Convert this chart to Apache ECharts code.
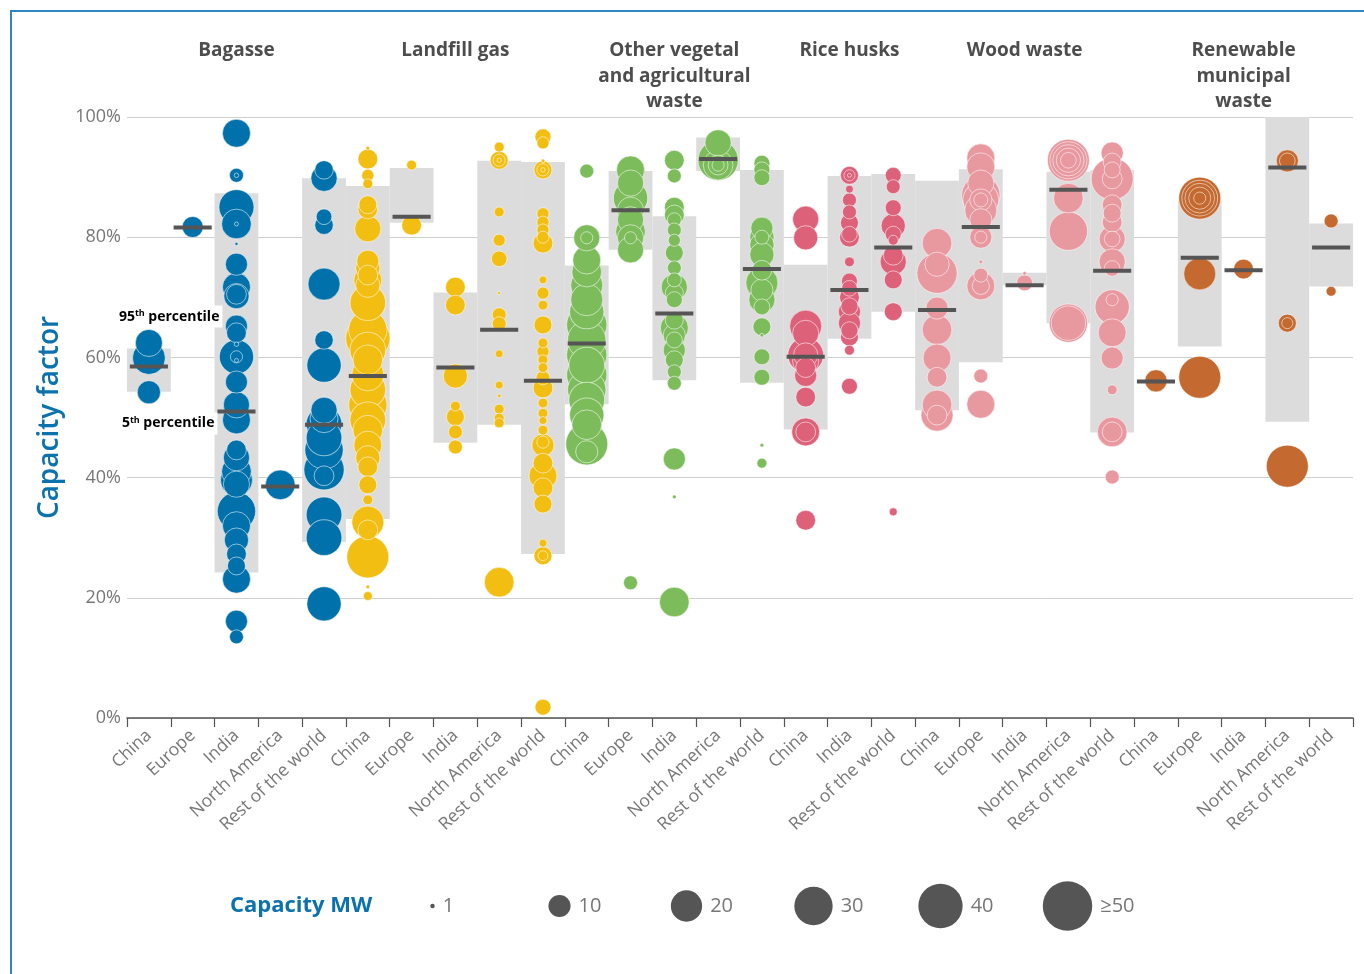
<!DOCTYPE html>
<html>
<head>
<meta charset="utf-8">
<script src="https://cdn.jsdelivr.net/npm/echarts/dist/echarts.min.js"></script>
<style>
  html, body { margin: 0; padding: 0; background: #fff; }
  #chart { width: 1364px; height: 974px; }
  #frame { position: absolute; left: 10px; top: 10px; right: 0; bottom: 0;
           border-top: 2px solid #2F86C3; border-left: 2px solid #2F86C3; pointer-events: none; }
</style>
</head>
<body>
<div id="chart"></div>
<div id="frame"></div>
<script>
// ---------- DATA ----------
const categories = [
  'China','Europe','India','North America','Rest of the world',
  'China','Europe','India','North America','Rest of the world',
  'China','Europe','India','North America','Rest of the world',
  'China','India','Rest of the world',
  'China','Europe','India','North America','Rest of the world',
  'China','Europe','India','North America','Rest of the world'
];
const groupNames = ['Bagasse','Landfill gas','Other vegetal\nand agricultural\nwaste','Rice husks','Wood waste','Renewable\nmunicipal\nwaste'];
const groupFirst = [0, 5, 10, 15, 18, 23];
const groupLast  = [4, 9, 14, 17, 22, 27];
const fuelColors = ['#0071AA', '#F2BE12', '#7DBC5B', '#DD6179', '#E8989F', '#C4692F'];

// 95th / 5th percentile and median capacity factor (%) per category
const p95 = [61.5,null,87.3,null,89.8, 88.5,91.5,70.8,92.7,92.5, 75.3,91.0,83.5,96.6,91.2, 75.4,90.2,90.5, 89.4,91.3,74.1,90.9,91.2, null,86.1,null,100,82.3];
const p5  = [54.3,null,24.2,null,29.3, 33.1,82.4,45.8,48.8,27.3, 52.2,77.9,56.2,91.0,55.8, 48.0,63.1,67.6, 51.2,59.2,72.0,65.7,47.5, null,61.8,null,49.3,71.8];
const medians = [58.5,81.6,51.0,38.5,48.8, 56.9,83.4,58.3,64.6,56.1, 62.3,84.5,67.3,93.0,74.7, 60.1,71.2,78.3, 67.9,81.7,72.0,87.9,74.4, 56.0,76.6,74.5,91.6,78.3];

// plants: [category index, capacity factor %, capacity MW]
const bagassePlants = [
  [0,62.4,15],[0,59.9,22],[0,54.2,11],
  [1,81.7,9],
  [2,97.3,16],[2,90.3,4],[2,90.3,1],[2,85.0,25],[2,82.2,18],[2,82.2,0.8],[2,78.9,0.5],[2,75.5,10],[2,71.7,16],
  [2,70.5,8],[2,70.2,13],[2,65.2,10],[2,64.1,8],[2,62.2,1],[2,60.1,24],[2,60.1,3],[2,59.5,0.8],[2,55.9,10],
  [2,52.1,14],[2,49.6,16],[2,44.6,8],[2,43.3,14],[2,41.0,18],[2,39.6,21],[2,38.9,14],[2,34.4,30],[2,32.0,16],
  [2,29.6,12],[2,27.3,8],[2,25.3,6.6],[2,23.1,16],[2,16.1,10],[2,13.5,4],
  [3,38.8,18],
  [4,91.2,7],[4,89.8,14],[4,83.4,5],[4,82.0,7],[4,72.2,21],[4,62.9,7],[4,58.7,24],[4,51.2,14],[4,49.8,16],
  [4,48.9,26],[4,46.6,26],[4,44.6,30],[4,41.3,33],[4,40.3,8],[4,33.8,26],[4,30.0,26],[4,19.0,24]
];
const landfillPlants = [
  [5,94.8,0.7],[5,93.0,8],[5,90.3,3],[5,88.9,2],[5,85.4,6.6],[5,84.7,8],[5,81.4,14],[5,76.0,10],[5,74.9,12],
  [5,73.7,8],[5,72.8,16],[5,72.0,12],[5,69.1,26],[5,64.6,30],[5,63.2,40],[5,61.2,26],[5,59.6,18],[5,57.1,21],
  [5,54.6,26],[5,52.1,30],[5,49.6,26],[5,47.9,18],[5,45.4,16],[5,43.3,12],[5,41.8,8],[5,38.8,6.6],[5,36.3,2],
  [5,32.6,21],[5,31.3,8],[5,26.8,36],[5,21.8,0.7],[5,20.3,1.6],
  [6,92.0,2],[6,82.0,8],
  [7,71.7,8],[7,68.7,8],[7,56.9,12],[7,51.9,2],[7,50.1,6.6],[7,47.6,4],[7,45.1,4],
  [8,95.0,2],[8,92.8,6.6],[8,92.8,3],[8,92.8,1],[8,84.2,2],[8,79.5,3],[8,76.4,5],[8,70.7,0.5],[8,67.1,4],[8,65.6,4],
  [8,60.6,1.3],[8,55.4,1.3],[8,53.6,0.7],[8,51.4,2],[8,49.9,2],[8,49.1,2],[8,22.6,18],
  [9,96.7,5.2],[9,95.7,3],[9,92.7,0.7],[9,91.2,6.6],[9,91.2,3],[9,91.2,1],[9,83.9,3],[9,82.5,3],[9,81.2,3],[9,80.0,3],
  [9,79.0,8],[9,72.9,1.3],[9,70.7,3],[9,68.7,2],[9,65.4,6.6],[9,62.4,2],[9,61.0,3],[9,59.6,2],[9,58.3,2],
  [9,56.6,4],[9,54.9,8],[9,52.4,2],[9,50.7,2],[9,49.5,1.3],[9,47.9,2],[9,45.9,3],[9,45.4,10],[9,42.4,8],
  [9,40.3,16],[9,38.3,8],[9,35.6,6.6],[9,29.1,1.3],[9,27.0,6.6],[9,27.0,2],[9,1.8,5.2]
];
const otherVegPlants = [
  [10,91.0,4],[10,79.9,14],[10,79.9,3],[10,76.2,16],[10,74.2,18],[10,72.0,21],[10,69.6,21],[10,67.6,24],[10,65.4,33],
  [10,62.9,30],[10,60.4,33],[10,58.7,26],[10,57.1,33],[10,54.6,30],[10,52.9,26],[10,50.4,24],[10,48.8,18],
  [10,45.6,36],[10,44.3,10],
  [11,91.2,16],[11,89.0,14],[11,86.5,24],[11,84.5,14],[11,82.9,14],[11,80.9,18],[11,79.9,14],[11,79.9,3],[11,77.9,14],[11,22.5,4],
  [12,92.8,8],[12,90.2,4],[12,85.0,8],[12,83.7,8],[12,82.9,4],[12,81.2,4],[12,79.5,3],[12,77.4,6.6],[12,74.9,4],
  [12,72.9,4],[12,71.7,14],[12,70.7,6.6],[12,69.6,5.2],[12,66.2,6.6],[12,64.9,16],[12,63.7,10],[12,62.9,5.2],
  [12,61.2,10],[12,59.6,6.6],[12,57.6,4],[12,55.7,4],[12,43.1,10],[12,36.8,0.7],[12,19.3,18],
  [13,95.7,14],[13,92.8,33],[13,92.0,18],[13,92.0,8],[13,92.0,3],
  [14,92.3,5.2],[14,91.2,5.2],[14,89.9,5.2],[14,81.5,10],[14,80.0,12],[14,80.0,4],[14,78.7,12],[14,77.1,12],[14,74.5,8],
  [14,72.4,21],[14,71.2,10],[14,69.6,14],[14,68.4,5.2],[14,65.1,6.6],[14,63.7,0.7],[14,60.1,5.2],[14,56.7,5.2],
  [14,45.4,0.7],[14,42.4,2]
];
const riceHuskPlants = [
  [15,83.0,14],[15,79.9,12],[15,65.2,21],[15,64.0,14],[15,60.4,26],[15,60.4,12],[15,59.4,14],[15,58.3,8],[15,57.0,10],
  [15,53.4,8],[15,47.6,16],[15,47.6,8],[15,32.9,8],
  [16,90.3,6.6],[16,90.3,2.5],[16,90.3,0.8],[16,88.0,1.3],[16,86.2,4],[16,84.2,4],[16,82.4,6.6],[16,80.5,5],[16,80.0,8],
  [16,75.9,2],[16,72.7,5.2],[16,71.5,5],[16,70.0,8],[16,68.5,6],[16,67.6,10],[16,65.7,10],[16,64.5,6],
  [16,63.4,6.6],[16,61.2,2],[16,55.2,5.2],
  [17,90.3,5.2],[17,88.4,4],[17,84.9,5.2],[17,81.9,12],[17,80.5,5.2],[17,79.5,2],[17,77.0,8],[17,75.9,14],
  [17,72.9,6.6],[17,67.6,6.6],[17,34.3,1.3]
];
const woodWastePlants = [
  [18,79.0,18],[18,74.0,33],[18,75.5,12],[18,68.2,10],[18,64.6,18],[18,59.9,16],[18,56.7,8],[18,52.1,18],[18,50.4,21],[18,50.4,8],
  [19,93.2,16],[19,91.7,16],[19,89.0,14],[19,87.0,30],[19,86.2,26],[19,86.2,10],[19,86.2,4],[19,84.5,21],[19,82.9,10],
  [19,80.0,10],[19,80.0,3],[19,75.9,0.7],[19,73.7,4],[19,71.9,16],[19,71.9,6],[19,56.9,4],[19,52.2,16],
  [20,74.0,0.7],[20,72.4,5.2],
  [21,92.8,36],[21,92.8,28],[21,92.8,20],[21,92.8,12],[21,92.8,5],[21,86.5,18],[21,81.0,30],[21,65.7,30],[21,65.7,24],
  [22,94.0,10],[22,92.5,6.6],[22,91.2,5.2],[22,89.7,36],[22,89.7,8],[22,85.4,8],[22,84.0,6.6],[22,82.5,8],
  [22,79.7,14],[22,79.7,5],[22,75.9,14],[22,74.8,5],[22,69.6,3],[22,68.4,24],[22,64.1,16],[22,59.9,10],[22,54.6,2],
  [22,47.6,18],[22,47.6,8],[22,40.1,4]
];
const municipalWastePlants = [
  [23,56.1,10],
  [24,86.5,36],[24,86.5,26],[24,86.5,18],[24,86.5,10],[24,86.5,3],[24,73.9,21],[24,56.7,36],
  [25,74.7,8],
  [26,92.7,10],[26,92.7,5],[26,65.7,6.6],[26,65.7,2.5],[26,41.9,36],
  [27,82.7,4],[27,71.0,2]
];
const fuelPlants = [bagassePlants, landfillPlants, otherVegPlants, riceHuskPlants, woodWastePlants, municipalWastePlants];

const legendSizesMW = [1, 10, 20, 30, 40, 50];
const legendLabels = ['1', '10', '20', '30', '40', '\u226550'];

// ---------- CHART ----------
const sizeOf = mw => mw <= 1 ? 4.5 * Math.sqrt(mw) : 7 * Math.sqrt(Math.min(mw, 50));
const chart = echarts.init(document.getElementById('chart'), null, { renderer: 'canvas' });

const boxData = [];
categories.forEach((c, i) => { if (p5[i] != null) boxData.push([i, p5[i], p95[i]]); });
const medianData = medians.map((m, i) => [i, m]);

const scatterSeries = fuelPlants.map((pts, k) => ({
  type: 'scatter',
  xAxisIndex: 0, yAxisIndex: 0,
  z: 3,
  data: pts.slice().sort((a, b) => b[2] - a[2]),
  symbolSize: v => sizeOf(v[2]),
  itemStyle: { color: fuelColors[k], opacity: 1, borderColor: 'rgba(255,255,255,0.55)', borderWidth: 1 },
  emphasis: { disabled: true },
  silent: true
}));

const FONT = '"Open Sans", "Noto Sans", sans-serif';

chart.setOption({
  animation: false,
  grid: [
    { left: 127, right: 11, top: 117, bottom: 256 },
    { left: 369, width: 762, top: 880, height: 52 }
  ],
  xAxis: [
    {
      type: 'category', data: categories, gridIndex: 0, boundaryGap: true,
      axisLine: { lineStyle: { color: '#555', width: 1.5 } },
      axisTick: { show: true, length: 9, lineStyle: { color: '#555', width: 1.2 } },
      axisLabel: { interval: 0, rotate: 43, color: '#777', fontSize: 17.5, fontFamily: FONT, margin: 15 },
      splitLine: { show: false }
    },
    { type: 'category', data: legendLabels, gridIndex: 1, show: false }
  ],
  yAxis: [
    {
      type: 'value', gridIndex: 0, min: 0, max: 100, interval: 20,
      axisLine: { show: false }, axisTick: { show: false },
      axisLabel: { formatter: '{value}%', color: '#777', fontSize: 18, fontFamily: FONT, margin: 6 },
      splitLine: { lineStyle: { color: '#cfcfcf', width: 1 } },
      name: 'Capacity factor', nameLocation: 'middle', nameGap: 63, nameRotate: 90,
      nameTextStyle: { color: '#0B72AE', fontSize: 28, fontWeight: 600, fontFamily: FONT }
    },
    { type: 'value', gridIndex: 1, min: -1, max: 1, show: false }
  ],
  series: [
    {
      type: 'custom', name: 'range', xAxisIndex: 0, yAxisIndex: 0, z: 1, silent: true,
      data: boxData,
      encode: { x: 0, y: [1, 2] },
      renderItem: (params, api) => {
        const x = api.value(0);
        const lo = api.coord([x, api.value(1)]);
        const hi = api.coord([x, api.value(2)]);
        const w = api.size([1, 0])[0];
        return { type: 'rect', shape: { x: lo[0] - w / 2, y: hi[1], width: w, height: lo[1] - hi[1] },
                 style: { fill: '#DCDCDC' } };
      }
    },
    ...scatterSeries,
    {
      type: 'custom', name: 'median', xAxisIndex: 0, yAxisIndex: 0, z: 5, silent: true,
      data: medianData,
      encode: { x: 0, y: 1 },
      renderItem: (params, api) => {
        const p = api.coord([api.value(0), api.value(1)]);
        const w = api.size([1, 0])[0] * 0.87;
        return { type: 'rect', shape: { x: p[0] - w / 2, y: p[1] - 2, width: w, height: 4 },
                 style: { fill: '#555555' } };
      }
    },
    {
      type: 'scatter', xAxisIndex: 1, yAxisIndex: 1, silent: true,
      data: legendSizesMW.map((s, i) => [i, 0, s]),
      symbolSize: v => sizeOf(v[2]),
      itemStyle: { color: '#555555', opacity: 1 },
      label: { show: true, position: 'right', distance: 8, color: '#777', fontSize: 20, fontFamily: FONT,
               formatter: p => legendLabels[p.dataIndex] }
    }
  ]
});

// ---------- TEXT ANNOTATIONS (positioned via the chart's scales) ----------
const toPx = (x, y) => chart.convertToPixel({ xAxisIndex: 0, yAxisIndex: 0 }, [x, y]);
const graphics = [];
groupNames.forEach((g, k) => {
  const a = toPx(groupFirst[k], 100)[0], b = toPx(groupLast[k], 100)[0];
  graphics.push({
    type: 'text', x: (a + b) / 2, y: 38,
    style: { text: g, align: 'center', verticalAlign: 'top', fill: '#4d4d4d',
             font: 'bold 19px "Open Sans", "Noto Sans", sans-serif', lineHeight: 25.5 }
  });
});
const pctRich = {
  b: { fontSize: 14, fontWeight: 'bold', fontFamily: FONT, color: '#222', lineHeight: 18 },
  s: { fontSize: 9, fontWeight: 'bold', fontFamily: FONT, color: '#222', padding: [0, 0, 7, 0] }
};
const a95 = toPx(0, 66.8), a5 = toPx(0, 49.0);
graphics.push({
  type: 'text', x: a95[0] - 32, y: a95[1], z: 10,
  style: { text: '{b|95}{s|th}{b| percentile}', rich: pctRich, verticalAlign: 'middle',
           backgroundColor: '#fff', padding: [2, 3, 2, 2] }
});
graphics.push({
  type: 'text', x: a5[0] - 29, y: a5[1], z: 10,
  style: { text: '{b|5}{s|th}{b| percentile}', rich: pctRich, verticalAlign: 'middle',
           backgroundColor: '#fff', padding: [2, 3, 2, 2] }
});
graphics.push({
  type: 'text', x: 230, y: 906,
  style: { text: 'Capacity MW', verticalAlign: 'middle', fill: '#0B72AE',
           font: 'bold 22px "Open Sans", "Noto Sans", sans-serif' }
});
chart.setOption({ graphic: graphics });
</script>
</body>
</html>
